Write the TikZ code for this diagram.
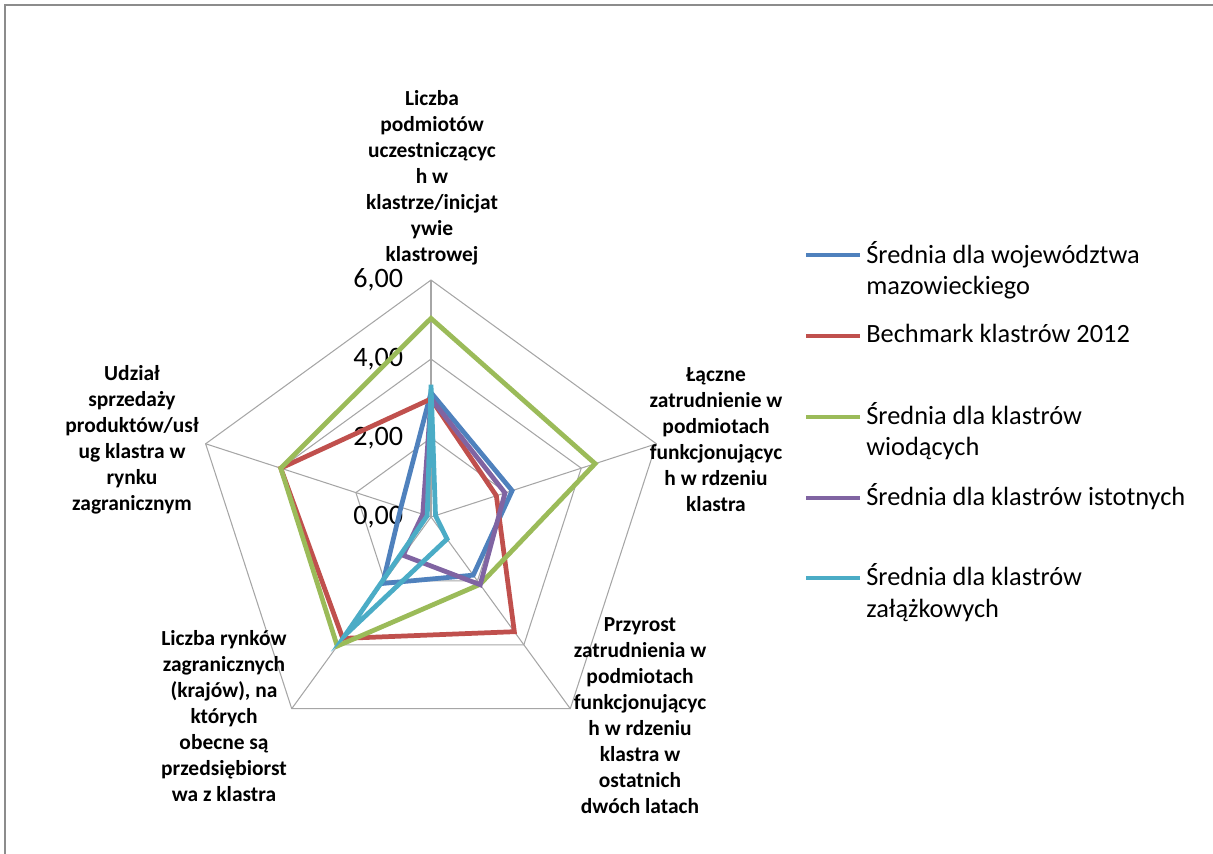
\documentclass[tikz,border=0pt]{standalone}
\usepackage{fontspec}
\setmainfont{Carlito}
\usepackage{tikz}
\definecolor{mazow}{HTML}{4F81BD}
\definecolor{bench}{HTML}{C0504D}
\definecolor{wiod}{HTML}{9BBB59}
\definecolor{istot}{HTML}{8064A2}
\definecolor{zalaz}{HTML}{4BACC6}

\begin{document}
\begin{tikzpicture}[x=0.02cm,y=-0.02cm,
  serie/.style={line width=2.7pt},
  grid/.style={black!35,line width=0.6pt},
  axislabel/.style={align=center,inner sep=0pt,font=\bfseries\fontsize{12.2}{14.8}\selectfont},
  legendtext/.style={align=left,anchor=base west,inner sep=0pt,font=\fontsize{15}{18.2}\selectfont}]
\useasboundingbox (0,0) rectangle (1213,854);
\draw[black!45,line width=1.4pt] (5,854)--(5,5)--(1213,5);
% radar
\begin{scope}[shift={(431,517)},x=0.79cm,y=0.79cm]
\foreach \r in {2,4,6}
  \draw[grid] (90:\r)--(18:\r)--(-54:\r)--(-126:\r)--(162:\r)--cycle;
\foreach \a in {90,18,-54,-126,162}
  \draw[grid] (0,0)--(\a:6);
\foreach \v in {0,2,4,6}
  \node[anchor=east,inner sep=0pt,font=\fontsize{16}{18}\selectfont] (tick\v) at (-0.7,\v) {\v,00};
\draw[serie,mazow] (90:3.15)--(18:2.16)--(-54:1.82)--(-126:2.08)--(162:0.8)--cycle;
\draw[serie,bench] (90:2.99)--(18:1.74)--(-54:3.59)--(-126:3.8)--(162:4.0)--cycle;
\draw[serie,wiod] (90:5.03)--(18:4.37)--(-54:2.11)--(-126:4.04)--(162:4.0)--cycle;
\draw[serie,istot] (90:3.0)--(18:1.97)--(-54:2.12)--(-126:1.2)--(162:0.22)--cycle;
\draw[serie,zalaz] (90:3.35)--(18:0.12)--(-54:0.69)--(-126:3.69)--(162:0.1)--cycle;
\end{scope}
% axis labels
\node[axislabel] (lab1) at (432,178) {Liczba\\podmiotów\\uczestniczącyc\\h w\\klastrze/inicjat\\ywie\\klastrowej};
\node[axislabel] (lab2) at (716,440) {Łączne\\zatrudnienie w\\podmiotach\\funkcjonującyc\\h w rdzeniu\\klastra};
\node[axislabel] (lab3) at (640,716) {Przyrost\\zatrudnienia w\\podmiotach\\funkcjonującyc\\h w rdzeniu\\klastra w\\ostatnich\\dwóch latach};
\node[axislabel] (lab4) at (224,716) {Liczba rynków\\zagranicznych\\(krajów), na\\których\\obecne są\\przedsiębiorst\\wa z klastra};
\node[axislabel] (lab5) at (132,440) {Udział\\sprzedaży\\produktów/usł\\ug klastra w\\rynku\\zagranicznym};
% legend (base = last line)
\draw[serie,mazow] (806,255)--(860,255);
\node[legendtext] (leg1) at (866,295) {Średnia dla województwa\\mazowieckiego};
\draw[serie,bench] (806,336)--(860,336);
\node[legendtext] (leg2) at (866,343) {Bechmark klastrów 2012};
\draw[serie,wiod] (806,417)--(860,417);
\node[legendtext] (leg3) at (866,456) {Średnia dla klastrów\\wiodących};
\draw[serie,istot] (806,498)--(860,498);
\node[legendtext] (leg4) at (866,505) {Średnia dla klastrów istotnych};
\draw[serie,zalaz] (806,578)--(860,578);
\node[legendtext] (leg5) at (866,617) {Średnia dla klastrów\\załążkowych};
\end{tikzpicture}
\end{document}
